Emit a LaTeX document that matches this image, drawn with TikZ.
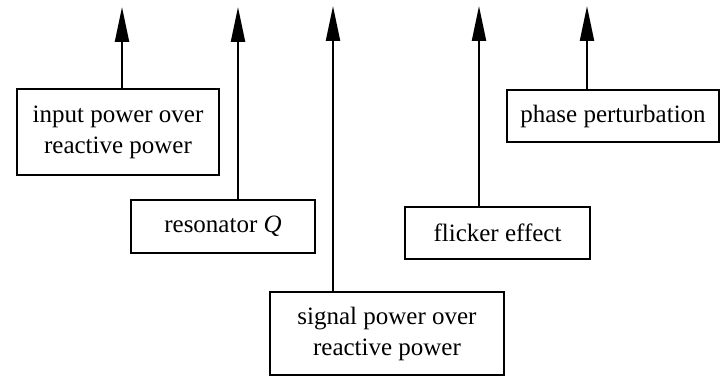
\documentclass[tikz,border=0pt]{standalone}
\usepackage{fontspec}
\setmainfont{Liberation Serif}
\usetikzlibrary{arrows.meta}
\begin{document}
\begin{tikzpicture}[x=1pt,y=1pt,
  box/.style={draw, line width=2pt, inner sep=0pt, align=center,
    font=\fontsize{25}{31}\selectfont},
  arr/.style={line width=2.2pt, -{Triangle[length=35pt,width=14pt]}}]
\useasboundingbox (0,0) rectangle (725,378);
\node[box, minimum width=202pt, minimum height=86pt] (b1) at (118,246) {input power over\\reactive power};
\node[box, minimum width=184pt, minimum height=53pt] (b2) at (223,151.5) {resonator \textit{Q}};
\node[box, minimum width=234pt, minimum height=83pt] (b4) at (387,44.5) {signal power over\\reactive power};
\node[box, minimum width=185pt, minimum height=52pt] (b3) at (497.5,145) {flicker effect};
\node[box, minimum width=212pt, minimum height=52pt] (b5) at (613,262) {phase perturbation};
\coordinate (t1) at (122,371);
\coordinate (t2) at (238,371);
\coordinate (t3) at (333,372);
\coordinate (t4) at (479,372);
\coordinate (t5) at (587,372);
\draw[arr] (b1.north -| t1) -- (t1);
\draw[arr] (b2.north -| t2) -- (t2);
\draw[arr] (b4.north -| t3) -- (t3);
\draw[arr] (b3.north -| t4) -- (t4);
\draw[arr] (b5.north -| t5) -- (t5);
\end{tikzpicture}
\end{document}
